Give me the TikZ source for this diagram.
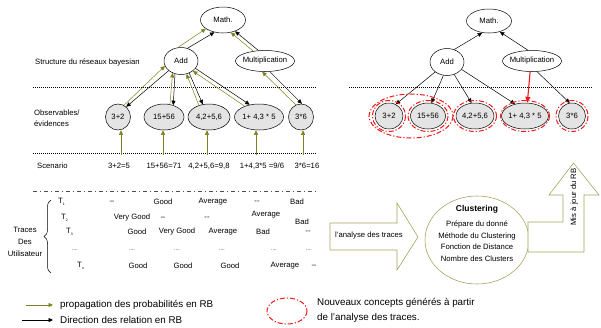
\documentclass[tikz,border=0pt]{standalone}
\usepackage{fontspec}
\setmainfont{Liberation Sans}
\usetikzlibrary{shapes.geometric,arrows.meta,decorations.pathreplacing}

\definecolor{propag}{RGB}{128,128,32}
\definecolor{blockline}{RGB}{165,165,95}
\definecolor{obsfill}{RGB}{228,228,228}
\definecolor{newred}{RGB}{238,24,24}

% user trace label: T with a tiny index
\newcommand\tracelbl[1]{T\raisebox{-2.5pt}{\fontsize{3.5}{4}\selectfont #1}}

\begin{document}
\begin{tikzpicture}[x=1pt,y=-1pt,
  every node/.style={font=\fontsize{7.7}{9}\selectfont, inner sep=0pt},
  concept/.style={ellipse, draw, line width=0.5pt, fill=white},
  obs/.style={ellipse, draw, line width=0.5pt, fill=obsfill, minimum height=26pt},
  headtip/.style={-{Triangle[length=4.5pt,width=4pt]}},
  rel/.style={headtip, line width=0.5pt, black},
  prop/.style={headtip, line width=0.5pt, propag},
  newlink/.style={-{Triangle[length=6pt,width=5pt]}, line width=1.1pt, newred},
  layerline/.style={line width=0.5pt, dash pattern=on 1pt off 1pt},
  traceline/.style={line width=0.5pt, black!70, dash pattern=on 4pt off 3pt on 1pt off 3pt},
  newconcept/.style={newred, line width=1pt, dash pattern=on 5pt off 2pt on 1.2pt off 2pt},
  blockshape/.style={draw=blockline, line width=0.6pt, fill=white},
  legtext/.style={font=\fontsize{9.8}{11}\selectfont, anchor=west},
]
\useasboundingbox (0,0) rectangle (601,327);

% ---------- layer separators ----------
\draw[layerline] (33,87) -- (317,87);
\draw[layerline] (349,87) -- (592,87);
\draw[layerline] (33,153) -- (317,153);
\draw[traceline] (33,191) -- (318,191);

% ---------- row labels ----------
\node[anchor=west] (lblstruct) at (35,62) {Structure du réseaux bayesian};
\node[anchor=west, align=left, font=\fontsize{7.7}{11}\selectfont] (lblobs) at (34,118) {Observables/\\évidences};
\node[anchor=west] (lblscen) at (37,166) {Scenario};

% ---------- Bayesian network (left) ----------
\node[concept, minimum width=45pt, minimum height=26pt] (mathL) at (223,20) {Math.};
\node[concept, minimum width=34pt, minimum height=27pt] (addL) at (181,61) {Add};
\node[concept, minimum width=59pt, minimum height=21pt, inner xsep=-2.1pt] (mulL) at (265,61) {Multiplication};

\node[obs, minimum width=25pt] (o1L) at (118,117) {3+2};
\node[obs, minimum width=40pt] (o2L) at (164,117) {15+56};
\node[obs, minimum width=42pt] (o3L) at (209,117) {4,2+5,6};
\node[obs, minimum width=49pt] (o4L) at (259,117) {1+ 4,3 * 5};
\node[obs, minimum width=25pt] (o5L) at (301,117) {3*6};

\draw[rel]  (addL.63)  -- (mathL.235);
\draw[prop] (addL.103) -- (mathL.207);
\draw[rel]  (mulL.122) -- (mathL.317);
\draw[prop] (mulL.140) -- (mathL.302);

\draw[prop] (o1L.63)   -- (addL.197);
\draw[rel]  (addL.218) -- (o1L.51);
\draw[prop] (o2L.65)   -- (addL.235);
\draw[rel]  (addL.245) -- (o2L.52);
\draw[rel]  (addL.304) -- (o3L.116);
\draw[prop] (o3L.131)  -- (addL.293);
\draw[rel]  (addL.333) -- (o4L.127);
\draw[prop] (o4L.143)  -- (addL.320);
\draw[rel]  (mulL.294) -- (o5L.86);
\draw[prop] (o5L.113)  -- (mulL.255);

% ---------- scenario values and their evidence arrows ----------
\node (sc1) at (119,166) {3+2=5};
\node (sc2) at (164,166) {15+56=71};
\node (sc3) at (209,166) {4,2+5,6=9,8};
\node (sc4) at (262,166) {1+4,3*5 =9/6};
\node (sc5) at (307,166) {3*6=16};

\coordinate (ev1) at (121,155);
\coordinate (ev2) at (163,155);
\coordinate (ev3) at (207,155);
\coordinate (ev4) at (256,155);
\coordinate (ev5) at (303,155);
\draw[prop] (ev1) -- (ev1 |- o1L.south);
\draw[prop] (ev2) -- (ev2 |- o2L.south);
\draw[prop] (ev3) -- (ev3 |- o3L.south);
\draw[prop] (ev4) -- (ev4 |- o4L.south);
\draw[prop] (ev5) -- (ev5 |- o5L.south);

% ---------- user traces ----------
\node[align=center, font=\fontsize{7.7}{12}\selectfont] (traces) at (25,242) {Traces\\Des\\Utilisateur};
\draw[decorate, decoration={brace, amplitude=7pt}, line width=0.5pt] (51,273) -- (51,200);

\node[anchor=west] (t1) at (58,202) {\tracelbl{1}};
\node[anchor=west] (t2) at (61,218) {\tracelbl{2}};
\node[anchor=west] (t3) at (66,232) {\tracelbl{3}};
\node[font=\fontsize{5}{6}\selectfont] (t4) at (75,250) {....};
\node[anchor=west] (tn) at (77,266) {\tracelbl{n}};

\node (c11) at (112,202) {\textendash};
\node (c12) at (163,202) {Good};
\node (c13) at (213,202) {Average};
\node (c14) at (257,202) {-{}-};
\node (c15) at (297,202) {Bad};

\node (c21) at (132,218) {Very Good};
\node (c22) at (163,218) {\textendash};
\node (c23) at (207,218) {-{}-};
\node (c24) at (266,215) {Average};
\node (c25) at (302,222) {Bad};

\node (c31) at (137,232) {Good};
\node (c32) at (177,232) {Very Good};
\node (c33) at (223,232) {Average};
\node (c34) at (263,232) {Bad};
\node (c35) at (308,232) {-{}-};

\node[font=\fontsize{5}{6}\selectfont] (c41) at (132,250) {....};
\node[font=\fontsize{5}{6}\selectfont] (c42) at (177,250) {....};
\node[font=\fontsize{5}{6}\selectfont] (c43) at (222,250) {....};
\node[font=\fontsize{5}{6}\selectfont] (c44) at (274,250) {....};
\node[font=\fontsize{5}{6}\selectfont] (c45) at (309,250) {....};

\node (c51) at (138,266) {Good};
\node (c52) at (183,266) {Good};
\node (c53) at (230,266) {Good};
\node (c54) at (285,266) {Average};
\node (c55) at (314,266) {\textendash};

% ---------- trace analysis, clustering, update ----------
\draw[blockshape] (330,223) -- (397,223) -- (397,203) -- (418,237) -- (397,270) -- (397,250) -- (330,250) -- cycle;
\node (analyse) at (369,236) {l'analyse des traces};

\node[ellipse, draw=blockline, line width=0.6pt, minimum width=104pt, minimum height=88pt] (clust) at (477,240) {};
\node[font=\bfseries\fontsize{8.5}{10}\selectfont] (clusttitle) at (477,209) {Clustering};
\node[align=center, font=\fontsize{7.7}{11.5}\selectfont] (clustbody) at (477,241) {Prépare du donné\\Méthode du Clustering\\Fonction de Distance\\Nombre des Clusters};

\draw[blockshape] (528,222) -- (563,222) -- (563,195) -- (549,195) -- (573.5,163) -- (599,195) -- (584,195) -- (584,252) -- (528,252) -- cycle;
\node[rotate=90] (majrb) at (574,197) {Mis à jour du RB};

% ---------- updated network (right) ----------
\node[concept, minimum width=45pt, minimum height=24pt] (mathR) at (489,21) {Math.};
\node[concept, minimum width=34pt, minimum height=27pt] (addR) at (447,62) {Add};
\node[concept, minimum width=59pt, minimum height=21pt, inner xsep=-2.1pt] (mulR) at (532,61) {Multiplication};

\node[obs, minimum width=28pt] (r1) at (389,116) {3+2};
\node[obs, minimum width=35pt] (r2) at (428,116) {15+56};
\node[obs, minimum width=38pt] (r3) at (475,116) {4,2+5,6};
\node[obs, minimum width=44pt] (r4) at (525,116) {1+ 4,3 * 5};
\node[obs, minimum width=27pt] (r5) at (572,116) {3*6};

\draw[rel] (addR.60)  -- (mathR.240);
\draw[rel] (mulR.110) -- (mathR.-45);
\draw[rel] (addR.220) -- (r1.60);
\draw[rel] (addR.255) -- (r2.75);
\draw[rel] (addR.300) -- (r3.105);
\draw[rel] (addR.333) -- (r4.130);
\draw[rel] (mulR.295) -- (r5.100);
\draw[newlink] (mulR.-100) -- (r4.80);

% new concepts found by the trace analysis
\draw[newconcept] (r1.center) ellipse [x radius=16.5, y radius=15.5];
\draw[newconcept] (r2.center) ellipse [x radius=20, y radius=15.5];
\draw[newconcept] (r3.center) ellipse [x radius=21.5, y radius=15.5];
\draw[newconcept] (r4.center) ellipse [x radius=24.5, y radius=15.5];
\draw[newconcept] (r5.center) ellipse [x radius=16, y radius=15.5];
\draw[newconcept] (411,116) ellipse [x radius=42, y radius=22];

% ---------- legend ----------
\coordinate (lgA1) at (26,305);
\coordinate (lgA2) at (53,305);
\draw[prop] (lgA1) -- (lgA2);
\node[legtext] (lg1) at (60,305) {propagation des probabilités en RB};
\coordinate (lgB1) at (22,320);
\coordinate (lgB2) at (53,320);
\draw[rel] (lgB1) -- (lgB2);
\node[legtext] (lg2) at (60,320) {Direction des relation en RB};
\draw[newconcept] (287,311) ellipse [x radius=20, y radius=13];
\node[legtext, align=left, font=\fontsize{9.8}{15}\selectfont] (lg3) at (317,310) {Nouveaux concepts générés à partir\\de l'analyse des traces.};
\end{tikzpicture}
\end{document}
